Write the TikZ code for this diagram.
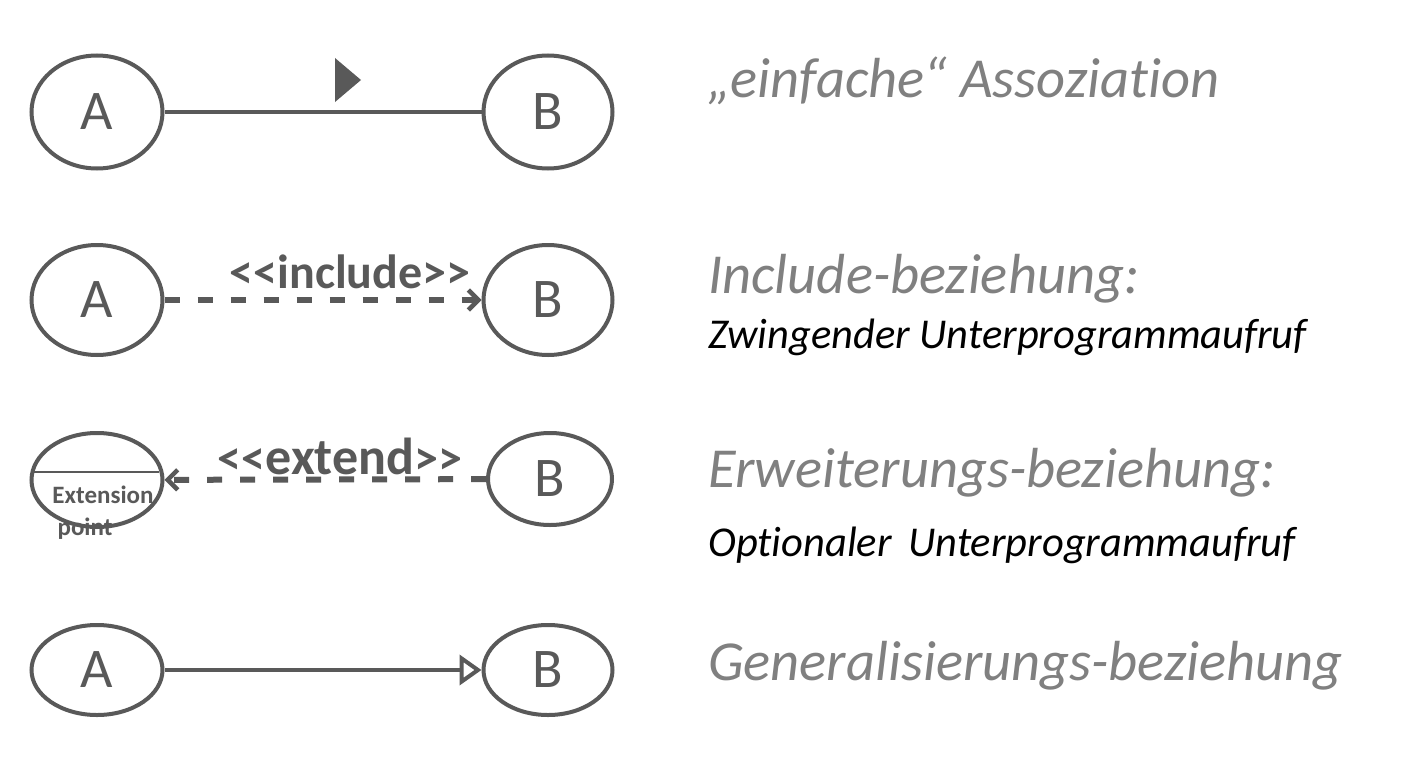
\documentclass[tikz,border=0pt]{standalone}
\usepackage{fontspec}
\setmainfont{Carlito}[Ligatures=NoCommon]
\usetikzlibrary{shapes.geometric,arrows.meta}
\definecolor{ln}{HTML}{595959}
\definecolor{hd}{HTML}{808080}
\tikzset{
  uc/.style={ellipse, draw=ln, line width=4pt, fill=white, inner sep=0pt, font=\fontsize{56}{60}\selectfont, text=ln},
  conn/.style={draw=ln, line width=4pt},
  dsh/.style={conn, line width=6pt, dash pattern=on 15pt off 18pt},
  head/.style={anchor=base west, inner sep=0pt, text=hd, font=\fontsize{56.5}{60}\selectfont\itshape},
  sub/.style={anchor=base west, inner sep=0pt, text=black, font=\fontsize{42.5}{46}\selectfont\itshape},
  stereo/.style={inner sep=0pt, text=ln, font=\fontsize{48}{52}\selectfont\bfseries},
  ext/.style={inner sep=0pt, text=ln, font=\fontsize{25}{27}\selectfont\bfseries},
  barb/.style={-{Straight Barb[length=10pt,width=20pt,line width=4.5pt]}},
}
\begin{document}
\begin{tikzpicture}[x=1pt,y=-1pt]
\useasboundingbox (0,0) rectangle (1412,760);
% row 1
\node[uc, minimum width=131pt, minimum height=113pt] (a1) at (97,112) {A};
\node[uc, minimum width=129pt, minimum height=113pt] (b1) at (548,112) {B};
\draw[conn] (a1) -- (b1);
\coordinate (m1) at (335,58);
\coordinate (m2) at (335,102);
\coordinate (m3) at (361,80);
\fill[ln] (m1) -- (m2) -- (m3) -- cycle;
\node[head] (t1) at (707,97) {„einfache“ Assoziation};
% row 2
\node[uc, minimum width=131pt, minimum height=110pt] (a2) at (97,300) {A};
\node[uc, minimum width=129pt, minimum height=110pt] (b2) at (548,300) {B};
\draw[dsh, barb] (a2) -- (b2);
\node[stereo] (s2) at (350,272) {<{}<include>{}>};
\node[head] (t2) at (708,293) {Include-beziehung:};
\node[sub] (u2) at (708,348) {Zwingender Unterprogrammaufruf};
% row 3
\node[uc, minimum width=131pt, minimum height=94pt] (a3) at (97,480) {};
\draw[ln, line width=2pt] (a3.west |- 0,472) ++(3,0) -- ++(126,0);
\node[ext] (x3) at (103,495) {Extension};
\node[ext] (p3) at (85,529) {point};
\node[uc, minimum width=124pt, minimum height=92pt] (b3) at (550,479) {B};
\draw[dsh, barb] (b3) -- (a3);
\node[stereo] (s3) at (340,456) {<{}<{\fontsize{52}{56}\selectfont extend}>{}>};
\node[head] (t3) at (708,487) {Erweiterungs-beziehung:};
\node[sub] (u3) at (708,556) {Optionaler\, Unterprogrammaufruf};
% row 4
\node[uc, minimum width=131pt, minimum height=90pt] (a4) at (97,670) {A};
\node[uc, minimum width=129pt, minimum height=90pt] (b4) at (548,670) {B};
\draw[conn, -{Triangle[open, length=22pt, width=30pt, fill=white]}] (a4) -- (b4);
\node[head] (t4) at (708,680) {Generalisierungs-beziehung};
\end{tikzpicture}
\end{document}
